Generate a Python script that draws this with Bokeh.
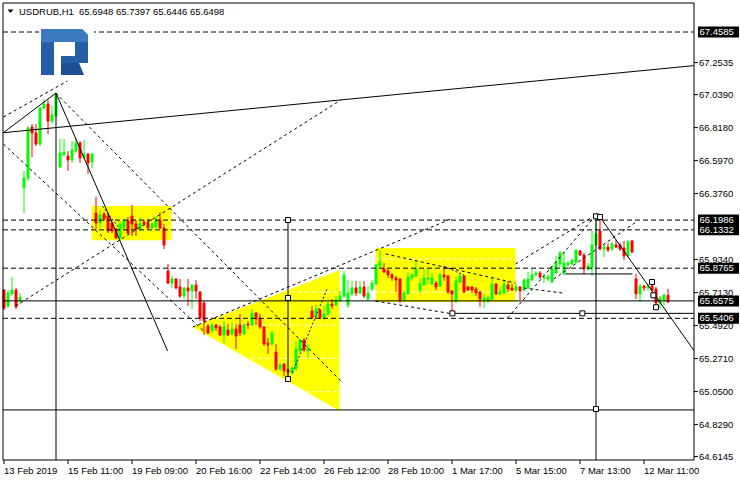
from bokeh.plotting import figure
from bokeh.models import Range1d, ColumnDataSource
from bokeh.core.properties import value
from bokeh.embed import file_html
from bokeh.resources import INLINE

FONT = "Liberation Sans"
FSIZE = "9.5px"

symbol_label = "USDRUB,H1"
last_ohlc = "65.6948 65.7397 65.6446 65.6498"

opens = [65.730, 65.623, 65.704, 65.730, 65.663, 66.414, 66.481, 66.822, 66.782, 66.708,
         66.949, 66.976, 66.862, 66.896, 66.554, 66.635, 66.628, 66.601, 66.661, 66.715,
         66.615, 66.641, 66.588, 66.246, 66.179, 66.239, 66.226, 66.179, 66.139, 66.079,
         66.146, 66.193, 66.226, 66.173, 66.139, 66.186, 66.179, 66.146, 66.152, 66.199,
         66.146, 65.858, 65.777, 65.804, 65.751, 65.690, 65.744, 65.724, 65.764, 65.717,
         65.643, 65.489, 65.456, 65.496, 65.483, 65.429, 65.462, 65.436, 65.469, 65.496,
         65.436, 65.503, 65.496, 65.576, 65.543, 65.483, 65.375, 65.369, 65.315, 65.201,
         65.235, 65.195, 65.175, 65.201, 65.322, 65.396, 65.322, 65.590, 65.550, 65.596,
         65.543, 65.570, 65.637, 65.630, 65.663, 65.690, 65.630, 65.704, 65.744, 65.710,
         65.751, 65.670, 65.737, 65.771, 65.891, 65.871, 65.858, 65.831, 65.811, 65.804,
         65.663, 65.704, 65.811, 65.824, 65.730, 65.764, 65.804, 65.771, 65.777, 65.757,
         65.831, 65.824, 65.724, 65.657, 65.784, 65.824, 65.751, 65.751, 65.737, 65.717,
         65.663, 65.657, 65.670, 65.771, 65.704, 65.710, 65.764, 65.744, 65.730, 65.751,
         65.730, 65.744, 65.797, 65.831, 65.844, 65.811, 65.804, 65.784, 65.844, 65.905,
         65.838, 65.898, 65.905, 65.918, 65.992, 65.965, 65.871, 65.878, 66.032, 66.126,
         66.005, 66.018, 66.005, 66.032, 66.032, 66.012, 65.958, 66.059, 65.804, 65.704,
         65.757, 65.744, 65.757, 65.737, 65.643, 65.663, 65.6948]
highs = [65.737, 65.730, 65.818, 65.744, 65.710, 66.528, 66.829, 66.842, 66.842, 66.956,
         67.010, 67.003, 66.963, 67.050, 66.742, 66.742, 66.661, 66.728, 66.742, 66.728,
         66.735, 66.648, 66.648, 66.353, 66.266, 66.253, 66.246, 66.193, 66.146, 66.193,
         66.206, 66.219, 66.300, 66.199, 66.219, 66.199, 66.206, 66.186, 66.226, 66.253,
         66.173, 65.905, 65.824, 65.811, 65.804, 65.751, 65.804, 65.771, 65.797, 65.724,
         65.657, 65.503, 65.509, 65.503, 65.496, 65.523, 65.503, 65.509, 65.503, 65.570,
         65.509, 65.523, 65.603, 65.583, 65.570, 65.489, 65.409, 65.456, 65.369, 65.241,
         65.241, 65.208, 65.221, 65.389, 65.402, 65.409, 65.369, 65.623, 65.630, 65.603,
         65.623, 65.650, 65.670, 65.690, 65.724, 65.858, 65.797, 65.791, 65.791, 65.791,
         65.791, 65.757, 65.797, 65.905, 65.998, 65.911, 65.871, 65.844, 65.824, 65.811,
         65.724, 65.851, 65.844, 65.925, 65.811, 65.871, 65.878, 65.844, 65.791, 65.844,
         65.891, 65.831, 65.730, 65.818, 65.838, 65.831, 65.757, 65.757, 65.751, 65.724,
         65.704, 65.690, 65.818, 65.777, 65.751, 65.791, 65.791, 65.771, 65.771, 65.757,
         65.811, 65.851, 65.871, 65.858, 65.858, 65.838, 65.838, 65.891, 65.958, 65.992,
         65.992, 65.925, 65.938, 66.005, 65.998, 65.978, 65.911, 66.126, 66.226, 66.219,
         66.039, 66.046, 66.052, 66.066, 66.046, 66.059, 66.066, 66.066, 65.838, 65.771,
         65.764, 65.771, 65.791, 65.751, 65.690, 65.704, 65.7397]
lows = [65.596, 65.610, 65.690, 65.603, 65.637, 66.246, 66.460, 66.621, 66.695, 66.695,
        66.943, 66.775, 66.842, 66.889, 66.548, 66.628, 66.528, 66.581, 66.648, 66.581,
        66.608, 66.507, 66.548, 66.139, 66.146, 66.193, 66.112, 66.112, 66.072, 66.059,
        66.126, 66.106, 66.092, 66.092, 66.126, 66.159, 66.139, 66.139, 66.146, 66.139,
        66.005, 65.771, 65.744, 65.737, 65.677, 65.670, 65.623, 65.603, 65.670, 65.523,
        65.429, 65.436, 65.442, 65.456, 65.422, 65.375, 65.422, 65.422, 65.335, 65.422,
        65.429, 65.469, 65.489, 65.496, 65.469, 65.355, 65.302, 65.355, 65.188, 65.188,
        65.154, 65.141, 65.161, 65.188, 65.315, 65.315, 65.275, 65.536, 65.543, 65.536,
        65.536, 65.556, 65.603, 65.623, 65.650, 65.677, 65.610, 65.690, 65.690, 65.704,
        65.677, 65.657, 65.724, 65.764, 65.871, 65.844, 65.811, 65.791, 65.717, 65.643,
        65.657, 65.704, 65.791, 65.818, 65.710, 65.757, 65.771, 65.764, 65.730, 65.751,
        65.791, 65.704, 65.570, 65.643, 65.777, 65.710, 65.724, 65.710, 65.690, 65.617,
        65.610, 65.643, 65.663, 65.697, 65.697, 65.704, 65.717, 65.724, 65.717, 65.663,
        65.724, 65.737, 65.791, 65.824, 65.804, 65.777, 65.791, 65.777, 65.838, 65.884,
        65.831, 65.884, 65.898, 65.911, 65.958, 65.838, 65.858, 65.824, 66.025, 65.998,
        65.951, 65.985, 65.992, 66.012, 65.992, 65.931, 65.951, 65.978, 65.670, 65.650,
        65.724, 65.724, 65.724, 65.623, 65.603, 65.630, 65.6446]
closes = [65.610, 65.710, 65.730, 65.617, 65.683, 66.481, 66.816, 66.782, 66.708, 66.949,
          66.976, 66.862, 66.903, 67.043, 66.648, 66.655, 66.601, 66.668, 66.715, 66.615,
          66.641, 66.581, 66.641, 66.179, 66.233, 66.206, 66.126, 66.126, 66.079, 66.173,
          66.193, 66.112, 66.173, 66.139, 66.179, 66.173, 66.146, 66.173, 66.199, 66.146,
          66.032, 65.777, 65.804, 65.744, 65.690, 65.744, 65.724, 65.764, 65.724, 65.543,
          65.523, 65.442, 65.496, 65.476, 65.429, 65.483, 65.429, 65.469, 65.422, 65.442,
          65.496, 65.496, 65.576, 65.536, 65.483, 65.369, 65.362, 65.442, 65.201, 65.228,
          65.188, 65.181, 65.208, 65.335, 65.396, 65.329, 65.342, 65.543, 65.603, 65.543,
          65.570, 65.637, 65.623, 65.663, 65.690, 65.831, 65.710, 65.744, 65.710, 65.751,
          65.690, 65.710, 65.777, 65.898, 65.918, 65.851, 65.831, 65.811, 65.797, 65.663,
          65.710, 65.818, 65.831, 65.871, 65.771, 65.811, 65.811, 65.811, 65.751, 65.831,
          65.818, 65.717, 65.704, 65.791, 65.824, 65.717, 65.730, 65.730, 65.710, 65.670,
          65.677, 65.677, 65.771, 65.704, 65.717, 65.771, 65.737, 65.730, 65.751, 65.724,
          65.797, 65.804, 65.831, 65.844, 65.818, 65.818, 65.818, 65.871, 65.911, 65.978,
          65.911, 65.911, 65.931, 65.998, 65.965, 65.871, 65.891, 66.032, 66.106, 66.005,
          66.018, 65.998, 66.039, 66.018, 66.005, 65.958, 66.052, 65.985, 65.704, 65.757,
          65.744, 65.757, 65.730, 65.643, 65.677, 65.697, 65.6498]

time_ticks = [0, 16, 32, 48, 64, 80, 96, 112, 128, 144, 160]
time_labels = ["13 Feb 2019", "15 Feb 11:00", "19 Feb 09:00", "20 Feb 16:00",
               "22 Feb 14:00", "26 Feb 12:00", "28 Feb 10:00", "1 Mar 17:00",
               "5 Mar 15:00", "7 Mar 13:00", "12 Mar 11:00"]
price_ticks = [67.2535, 67.0390, 66.8180, 66.5970, 66.3760, 65.9340, 65.7130,
               65.4920, 65.2710, 65.0500, 64.8290, 64.6145]
marked_levels = [67.4585, 66.1986, 66.1332, 65.8765, 65.6575, 65.5406]
dashed_levels = [67.4585, 66.1986, 66.1332, 65.8765, 65.5406]
solid_levels = [65.6575, 64.927]

# chart objects (bar index, price)
solid_x0 = [-0.15, -0.15, 13.0, 149.0, 13.0, 148.0, 71.0, 112.1, 140.4]
solid_y0 = [66.784, 66.784, 67.050, 66.219, 67.050, 66.226, 66.199, 65.574, 65.838]
solid_x1 = [172.4, 13.0, 40.9, 172.9, 13.0, 148.0, 71.0, 172.4, 157.1]
solid_y1 = [67.233, 67.050, 65.322, 65.309, 64.50, 64.50, 65.134, 65.574, 65.838]

dash_x0 = [-0.15, -0.15, 12.9, 2.9, 47.2, 95.4, 92.9, 125.9, 127.9, 137.4, 129.9]
dash_y0 = [66.889, 66.708, 67.050, 65.623, 65.483, 65.972, 65.657, 65.543, 65.905, 65.804, 65.744]
dash_x1 = [15.85, 49.9, 84.7, 84.2, 111.7, 127.9, 112.2, 147.4, 146.7, 158.4, 139.7]
dash_y1 = [67.130, 65.456, 65.108, 67.003, 66.206, 65.777, 65.570, 66.213, 66.213, 66.193, 65.710]

zigzag_x0 = [24.6, 72.1, 110.1]
zigzag_y0 = [66.293, 65.177, 65.887]
zigzag_x1 = [28.7, 80.9, 115.0]
zigzag_y1 = [66.146, 65.746, 65.831]

box_left = [21.9, 92.9]
box_right = [41.9, 127.9]
box_bottom = [66.063, 65.650]
box_top = [66.293, 66.012]
tri_x = [47.1, 83.9, 83.9]
tri_y = [65.483, 65.864, 64.920]

wdash_x0 = [39.5, 71.7, 50.4, 61.7, 75.4, 92.9, 92.9]
wdash_x1 = [41.9, 83.4, 83.4, 83.4, 83.4, 127.9, 127.9]
wdash_y = [66.159, 65.717, 65.496, 65.273, 65.049, 65.938, 65.717]

anchor_x = [71.0, 71.0, 71.0, 112.1, 144.6, 148.0, 149.0, 148.0, 162.0, 162.35, 163.0]
anchor_y = [66.199, 65.677, 65.134, 65.574, 65.574, 66.224, 66.219, 64.933, 65.784, 65.695, 65.615]

# ---- layout helpers: page column/row -> data (bar index, price) ----
PX_PER_BAR = 4.0
PX_PER_UNIT = 149.3
REF_PRICE, REF_ROW = 67.4585, 31


def ix(col):
    return (col - 3.0) / PX_PER_BAR


def py(row):
    return REF_PRICE - (row - REF_ROW) / PX_PER_UNIT


W, H = 740, 480
X0, X1 = ix(-0.5), ix(W - 0.5)
Y0, Y1 = py(H - 0.5), py(-0.5)
BL, BR, BT, BB = ix(2), ix(693), py(2), py(459)


def clip(x0, y0, x1, y1):
    ddx, ddy = x1 - x0, y1 - y0
    t0, t1 = 0.0, 1.0
    for pp, qq in ((-ddx, x0 - BL), (ddx, BR - x0), (-ddy, y0 - BB), (ddy, BT - y0)):
        if pp == 0:
            if qq < 0:
                return None
        else:
            r = qq / pp
            if pp < 0:
                t0 = max(t0, r)
            else:
                t1 = min(t1, r)
    if t0 > t1:
        return None
    return (x0 + t0 * ddx, y0 + t0 * ddy, x0 + t1 * ddx, y0 + t1 * ddy)


def clipped(xs0, ys0, xs1, ys1):
    out = [clip(a, b, c, d) for a, b, c, d in zip(xs0, ys0, xs1, ys1)]
    out = [o for o in out if o is not None]
    return dict(x0=[o[0] for o in out], y0=[o[1] for o in out],
                x1=[o[2] for o in out], y1=[o[3] for o in out])


p = figure(width=W, height=H, x_range=Range1d(X0, X1), y_range=Range1d(Y0, Y1),
           output_backend="svg", toolbar_location=None,
           x_axis_location=None, y_axis_location=None, min_border=0,
           outline_line_color=None, background_fill_color="white",
           border_fill_color="white")
p.grid.visible = False

# yellow shapes
p.quad(left=box_left, right=box_right, bottom=box_bottom, top=box_top,
       fill_color="#ffff00", line_color=None)
p.patch(tri_x, tri_y, fill_color="#ffff00", line_color=None)
p.segment(x0=wdash_x0, y0=wdash_y, x1=wdash_x1, y1=wdash_y,
          line_color="white", line_width=1, line_dash="4 3")

# candles
colors = ["#00ff00" if c >= o else "#ff0000" for o, c in zip(opens, closes)]
src = ColumnDataSource(dict(
    x=list(range(len(opens))), h=highs, l=lows,
    top=[max(o, c) for o, c in zip(opens, closes)],
    bottom=[min(o, c) for o, c in zip(opens, closes)],
    color=colors))
p.segment(x0="x", y0="h", x1="x", y1="l", line_color="color", line_width=1, source=src)
p.vbar(x="x", top="top", bottom="bottom", width=0.5, fill_color="color",
       line_color="color", line_width=1, source=src)

# horizontal levels
n = len(dashed_levels)
p.segment(x0=[BL] * n, y0=dashed_levels, x1=[BR] * n, y1=dashed_levels,
          line_color="black", line_width=1, line_dash="5 3")
m = len(solid_levels)
p.segment(x0=[BL] * m, y0=solid_levels, x1=[BR] * m, y1=solid_levels,
          line_color="black", line_width=1)

# drawn objects
p.segment(source=ColumnDataSource(clipped(solid_x0, solid_y0, solid_x1, solid_y1)),
          x0="x0", y0="y0", x1="x1", y1="y1", line_color="black", line_width=1)
p.segment(source=ColumnDataSource(clipped(dash_x0, dash_y0, dash_x1, dash_y1)),
          x0="x0", y0="y0", x1="x1", y1="y1", line_color="black", line_width=1,
          line_dash="3 3")
p.segment(x0=zigzag_x0, y0=zigzag_y0, x1=zigzag_x1, y1=zigzag_y1, line_color="#0000ff",
          line_width=1, line_dash="2 2")
p.scatter(anchor_x, anchor_y, marker="square", size=5, fill_color="white",
          line_color="black", line_width=1)

# logo (white backing interrupts the top level line, as on the original)
p.quad(left=[ix(38)], right=[ix(93)], bottom=[py(77)], top=[py(26)],
       fill_color="white", line_color=None)
logo_main = [(40, 28), (81, 28), (87, 34), (87, 62), (60, 62), (60, 55), (74, 55),
             (74, 41), (53, 41), (53, 74), (40, 74)]
logo_top = [(40, 28), (81, 28), (87, 34), (87, 41), (40, 41)]
logo_foot = [(60, 62), (78, 62), (83, 74), (60, 74)]
shapes = [logo_main, logo_top, logo_foot]
p.patches(xs=[[ix(a) for a, b in s] for s in shapes],
          ys=[[py(b) for a, b in s] for s in shapes],
          fill_color=["#245ea6", "#3b79c0", "#1c4f93"], line_color=None)

# frame of the chart window
p.segment(x0=[BL, BR, BL, BL], y0=[BT, BT, BT, BB], x1=[BL, BR, BR, BR], y1=[BB, BB, BT, BB],
          line_color="black", line_width=1)

# price scale: ticks and labels
k = len(price_ticks)
p.segment(x0=[BR] * k, y0=price_ticks, x1=[ix(697)] * k, y1=price_ticks,
          line_color="black", line_width=1)
p.text(x=[ix(698)] * k, y=price_ticks, text=[f"{v:.4f}" for v in price_ticks],
       text_font=value(FONT), text_font_size=value(FSIZE), text_color="black",
       text_align="left", text_baseline="middle")

# marked levels on the price scale
half = 5.5 / PX_PER_UNIT
j = len(marked_levels)
p.quad(left=[ix(697)] * j, right=[ix(738)] * j,
       bottom=[v - half for v in marked_levels], top=[v + half for v in marked_levels],
       fill_color="black", line_color=None)
p.text(x=[ix(698.5)] * j, y=marked_levels, text=[f"{v:.4f}" for v in marked_levels],
       text_font=value(FONT), text_font_size=value(FSIZE), text_color="white",
       text_align="left", text_baseline="middle")

# time scale: ticks and labels
t = len(time_ticks)
p.segment(x0=time_ticks, y0=[BB] * t, x1=time_ticks, y1=[py(463)] * t,
          line_color="black", line_width=1)
p.text(x=time_ticks, y=[py(469)] * t, text=time_labels,
       text_font=value(FONT), text_font_size=value(FSIZE), text_color="black",
       text_align="left", text_baseline="middle")

# header
p.patch([ix(6.5), ix(12.5), ix(9.5)], [py(8.5), py(8.5), py(12)], fill_color="black",
        line_color=None)
p.text(x=[ix(18), ix(78)], y=[py(10.5), py(10.5)], text=[symbol_label, last_ohlc],
       text_font=value(FONT), text_font_size=value(FSIZE), text_color="black",
       text_align="left", text_baseline="middle")

open("out.html", "w").write(file_html(p, INLINE))
